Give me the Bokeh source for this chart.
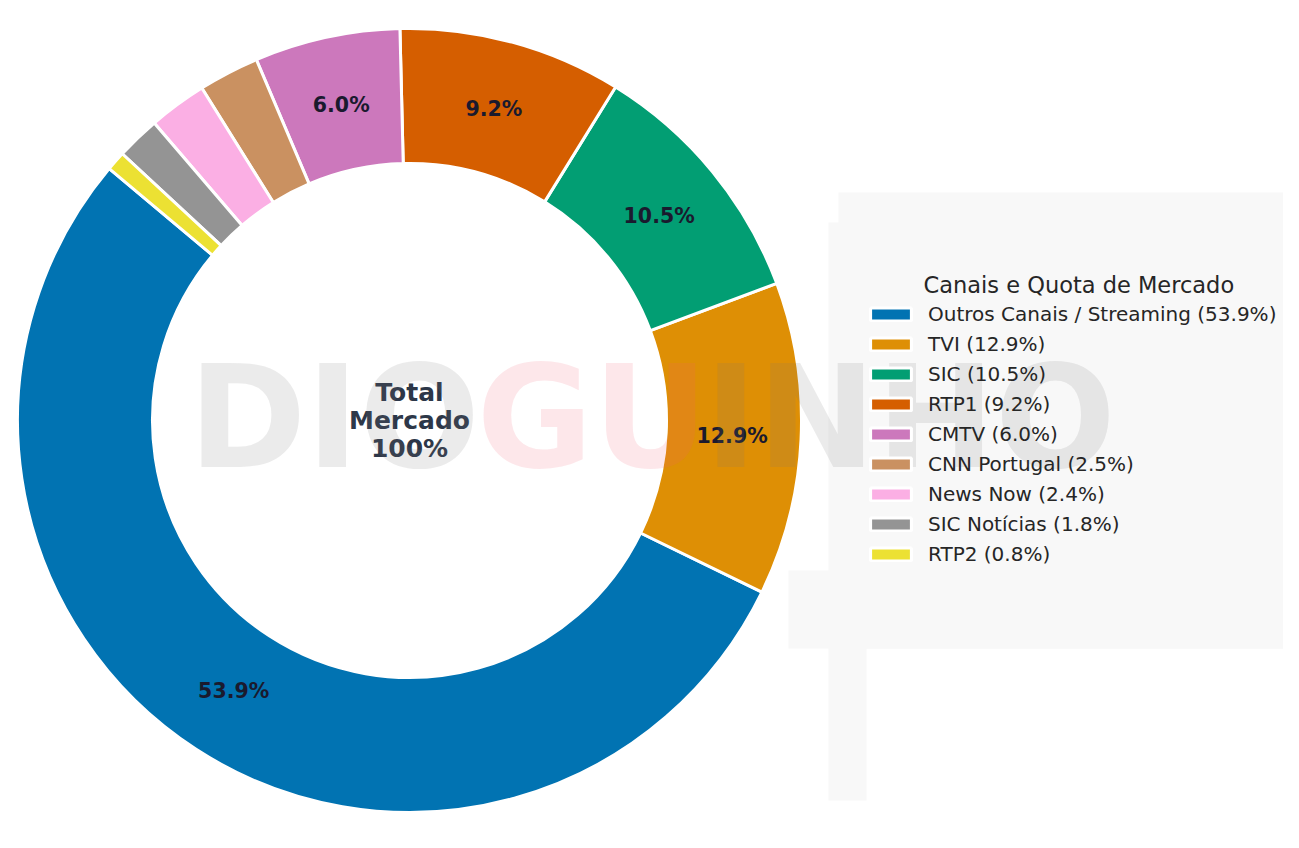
import math
from bokeh.plotting import figure
from bokeh.models import ColumnDataSource, Range1d, Legend, LegendItem
from bokeh.core.properties import value
from bokeh.embed import file_html
from bokeh.resources import INLINE

# ---- data ----
channels = ["Outros Canais / Streaming", "TVI", "SIC", "RTP1", "CMTV",
            "CNN Portugal", "News Now", "SIC Notícias", "RTP2"]
shares = [53.9, 12.9, 10.5, 9.2, 6.0, 2.5, 2.4, 1.8, 0.8]
colors = ["#0173b2", "#de8f05", "#029e73", "#d55e00", "#cc78bc",
          "#ca9161", "#fbafe4", "#949494", "#ece133"]
legend_title = "Canais e Quota de Mercado"
center_text = "Total\nMercado\n100%"
watermark_parts = ["DIO", "GU", "INHO"]
watermark_colors = ["#7a7a7a", "#f06070", "#7a7a7a"]

W, H = 1283, 832
p = figure(width=W, height=H, output_backend="svg", toolbar_location=None,
           x_range=Range1d(0, W), y_range=Range1d(0, H),
           x_axis_location=None, y_axis_location=None, min_border=0,
           background_fill_color="white", border_fill_color="white")
p.outline_line_color = None
p.grid.visible = False

# faint background panel behind legend
p.quad(left=[838, 828, 788], right=[W, 866, W], top=[640, 610, 262], bottom=[184, 32, 184],
       fill_color="#f8f8f8", line_color=None)

cx, cy = 409, 412
r_out, r_in = 392, 257
start_deg = 140.0
total = sum(shares)
starts, ends, mids = [], [], []
acc = start_deg
for s in shares:
    a0 = acc
    a1 = acc + 360.0 * s / total
    starts.append(math.radians(a0))
    ends.append(math.radians(a1))
    mids.append(math.radians((a0 + a1) / 2))
    acc = a1

src = ColumnDataSource(dict(
    start=starts, end=ends, color=colors,
    label=[f"{c} ({s:.1f}%)" for c, s in zip(channels, shares)],
))
wedges = p.annular_wedge(x=cx, y=cy, inner_radius=r_in, outer_radius=r_out,
                         start_angle="start", end_angle="end", direction="anticlock",
                         fill_color="color", line_color="white", line_width=3, source=src)

# percentage labels on larger slices
r_lab = 323
lab_x = [cx + r_lab * math.cos(m) for m, s in zip(mids, shares) if s >= 5]
lab_y = [cy + r_lab * math.sin(m) for m, s in zip(mids, shares) if s >= 5]
lab_t = [f"{s:.1f}%" for s in shares if s >= 5]
p.text(x=lab_x, y=lab_y, text=lab_t, text_align="center", text_baseline="middle",
       text_font=value("DejaVu Sans"), text_font_style="bold", text_font_size="20.5px",
       text_color="#1a1a2e")

# center text
p.text(x=[cx], y=[cy], text=[center_text], text_align="center", text_baseline="middle",
       text_font=value("DejaVu Sans"), text_font_style="bold", text_font_size="25px",
       text_line_height=0.96, text_color="#2d3748")

# watermark
wm_x = [188, 476, 704]
p.text(x=wm_x, y=[cy + 3] * 3, text=watermark_parts, text_align="left", text_baseline="middle",
       text_font=value("DejaVu Sans"), text_font_style="bold", text_font_size="142px",
       text_color=watermark_colors, text_alpha=0.15)

# legend title
p.text(x=[923], y=[548], text=[legend_title], text_align="left", text_baseline="middle",
       text_font=value("DejaVu Sans"), text_font_size="22.5px", text_color="#262626")

items = [LegendItem(label=lbl, renderers=[wedges], index=i) for i, lbl in enumerate(src.data["label"])]
legend = Legend(items=items, location=(865, 266), orientation="vertical",
                glyph_width=51, glyph_height=16, label_standoff=12,
                label_text_font="DejaVu Sans", label_text_font_size="20px",
                label_text_color="#262626", label_height=21, spacing=6,
                padding=0, margin=0, border_line_color=None, background_fill_alpha=0)
p.add_layout(legend)

open("out.html", "w").write(file_html(p, INLINE))
